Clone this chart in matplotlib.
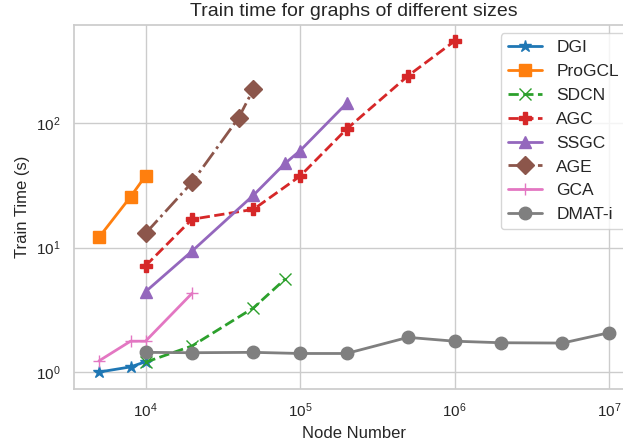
import matplotlib
matplotlib.use("Agg")
import matplotlib.pyplot as plt
import seaborn as sns

sns.set_theme(style="whitegrid")
plt.rcParams['font.family'] = ['Liberation Sans', 'DejaVu Sans']

dgi_x = [5000, 8000, 10000]
dgi_y = [1.0, 1.1, 1.21]
progcl_x = [5000, 8000, 10000]
progcl_y = [12.1, 25.6, 37.7]
sdcn_x = [10000, 20000, 50000, 80000]
sdcn_y = [1.2, 1.62, 3.28, 5.58]
agc_x = [10000, 20000, 50000, 100000, 200000, 500000, 1000000]
agc_y = [7.14, 16.9, 20.3, 37.5, 89.5, 240, 456]
ssgc_x = [10000, 20000, 50000, 80000, 100000, 200000]
ssgc_y = [4.42, 9.37, 26.4, 47.5, 60, 144]
age_x = [10000, 20000, 40000, 50000]
age_y = [13.0, 33.4, 110, 188]
gca_x = [5000, 8000, 10000, 20000]
gca_y = [1.23, 1.77, 1.77, 4.29]
dmat_x = [10000, 20000, 50000, 100000, 200000, 500000, 1000000, 2000000, 5000000, 10000000]
dmat_y = [1.44, 1.43, 1.44, 1.41, 1.41, 1.90, 1.77, 1.72, 1.71, 2.07]

fig = plt.figure(figsize=(6.23, 4.48), dpi=100)
ax = fig.add_axes([73.5 / 623, (448 - 388.6) / 448, 561 / 623, 364 / 448])

series = [
    ("DGI", dgi_x, dgi_y, "*", "-", "tab:blue"),
    ("ProGCL", progcl_x, progcl_y, "s", "-", "tab:orange"),
    ("SDCN", sdcn_x, sdcn_y, "x", "--", "tab:green"),
    ("AGC", agc_x, agc_y, "P", "--", "tab:red"),
    ("SSGC", ssgc_x, ssgc_y, "^", "-", "tab:purple"),
    ("AGE", age_x, age_y, "D", "-.", "tab:brown"),
    ("GCA", gca_x, gca_y, "+", "-", "tab:pink"),
    ("DMAT-i", dmat_x, dmat_y, "o", "-", "tab:gray"),
]
for name, xs, ys, m, ls, c in series:
    ax.plot(xs, ys, marker=m, linestyle=ls, color=c, label=name,
            markersize=9, linewidth=2)

ax.set_xscale("log")
ax.set_yscale("log")
ax.set_xlabel("Node Number", fontsize=12)
ax.set_ylabel("Train Time (s)", fontsize=12)
ax.set_title("Train time for graphs of different sizes", fontsize=14)
ax.tick_params(labelsize=11)
ax.legend(loc="upper right", fontsize=12.5)

fig.savefig("out.png", dpi=100)
